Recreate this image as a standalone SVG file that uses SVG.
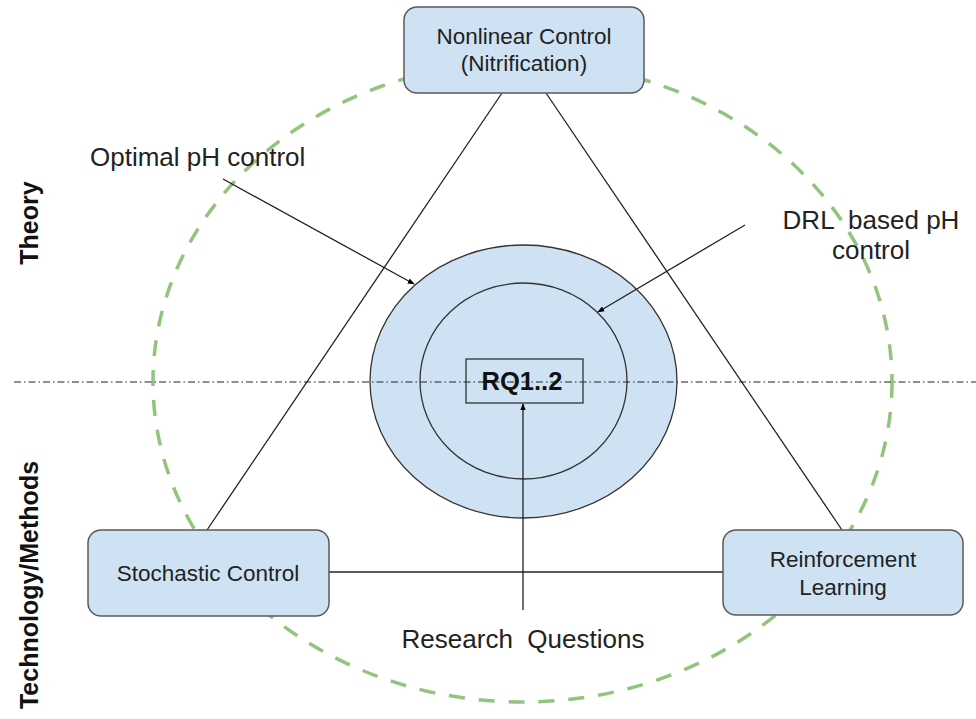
<svg xmlns="http://www.w3.org/2000/svg" width="976" height="719" viewBox="0 0 976 719">
  <defs>
    <marker id="arrow" viewBox="0 0 10 10" refX="9" refY="5" markerWidth="7" markerHeight="7" orient="auto" markerUnits="userSpaceOnUse">
      <path d="M0,1 L10,5 L0,9 z" fill="#000"/>
    </marker>
    <style>
      .box { fill: #cfe2f3; stroke: #595959; stroke-width: 1.5; }
      .ring { fill: #cfe2f3; stroke: #333; stroke-width: 1.3; }
      .line { stroke: #222; stroke-width: 1.3; fill: none; }
      .label { font-family: "Liberation Sans", Arial, sans-serif; font-size: 26px; fill: #222; }
      .node { font-family: "Liberation Sans", Arial, sans-serif; font-size: 22.5px; fill: #222; }
      .side { font-family: "Liberation Sans", Arial, sans-serif; font-size: 25px; font-weight: bold; fill: #111; }
    </style>
  </defs>
  <rect width="976" height="719" fill="#fff"/>

  <!-- outer dashed boundary -->
  <ellipse cx="522.5" cy="382" rx="369.5" ry="320" fill="none" stroke="#93c47d" stroke-width="3.5" stroke-dasharray="16 14"/>

  <!-- connectors -->
  <g id="connectors">
    <line class="line" x1="502" y1="93" x2="207" y2="530"/>
    <line class="line" x1="546" y1="93" x2="842" y2="530"/>
    <line class="line" x1="329" y1="572" x2="723" y2="572"/>
  </g>

  <!-- central rings -->
  <g id="rings">
    <ellipse class="ring" cx="523.5" cy="381.5" rx="153.5" ry="136.5"/>
    <ellipse class="ring" cx="523.5" cy="381" rx="103.5" ry="98"/>
  </g>

  <!-- theory / methods divider -->
  <line x1="14" y1="382" x2="976" y2="382" stroke="#222" stroke-width="1.2" stroke-dasharray="7 3 1.5 3"/>

  <g id="rq">
    <rect x="466" y="359" width="117" height="44" fill="none" stroke="#333" stroke-width="1.3"/>
    <text x="522" y="390" text-anchor="middle" font-family="'Liberation Sans', Arial, sans-serif" font-size="25.5" font-weight="bold" fill="#111">RQ1..2</text>
  </g>

  <g id="annotations">
    <line class="line" x1="223" y1="179" x2="414" y2="284" marker-end="url(#arrow)"/>
    <line class="line" x1="745" y1="225" x2="598" y2="312" marker-end="url(#arrow)"/>
    <line class="line" x1="523" y1="610" x2="523" y2="404" marker-end="url(#arrow)"/>
    <text class="label" x="90" y="166">Optimal pH control</text>
    <text class="label" x="871" y="229" text-anchor="middle" xml:space="preserve">DRL  based pH</text>
    <text class="label" x="871" y="259" text-anchor="middle">control</text>
    <text class="label" x="523" y="648" text-anchor="middle" xml:space="preserve">Research  Questions</text>
  </g>

  <g id="nonlinear-control">
    <rect class="box" x="404" y="7" width="240" height="86" rx="13"/>
    <text class="node" x="524" y="44" text-anchor="middle">Nonlinear Control</text>
    <text class="node" x="524" y="71" text-anchor="middle">(Nitrification)</text>
  </g>

  <g id="stochastic-control">
    <rect class="box" x="88" y="530" width="241" height="86" rx="13"/>
    <text class="node" x="208" y="581" text-anchor="middle">Stochastic Control</text>
  </g>

  <g id="reinforcement-learning">
    <rect class="box" x="723" y="530" width="240" height="85" rx="13"/>
    <text class="node" x="843" y="567" text-anchor="middle">Reinforcement</text>
    <text class="node" x="843" y="595" text-anchor="middle">Learning</text>
  </g>

  <g id="axis-labels">
    <text class="side" transform="translate(38,223) rotate(-90)" text-anchor="middle">Theory</text>
    <text class="side" transform="translate(38,585) rotate(-90)" text-anchor="middle">Technology/Methods</text>
  </g>
</svg>
